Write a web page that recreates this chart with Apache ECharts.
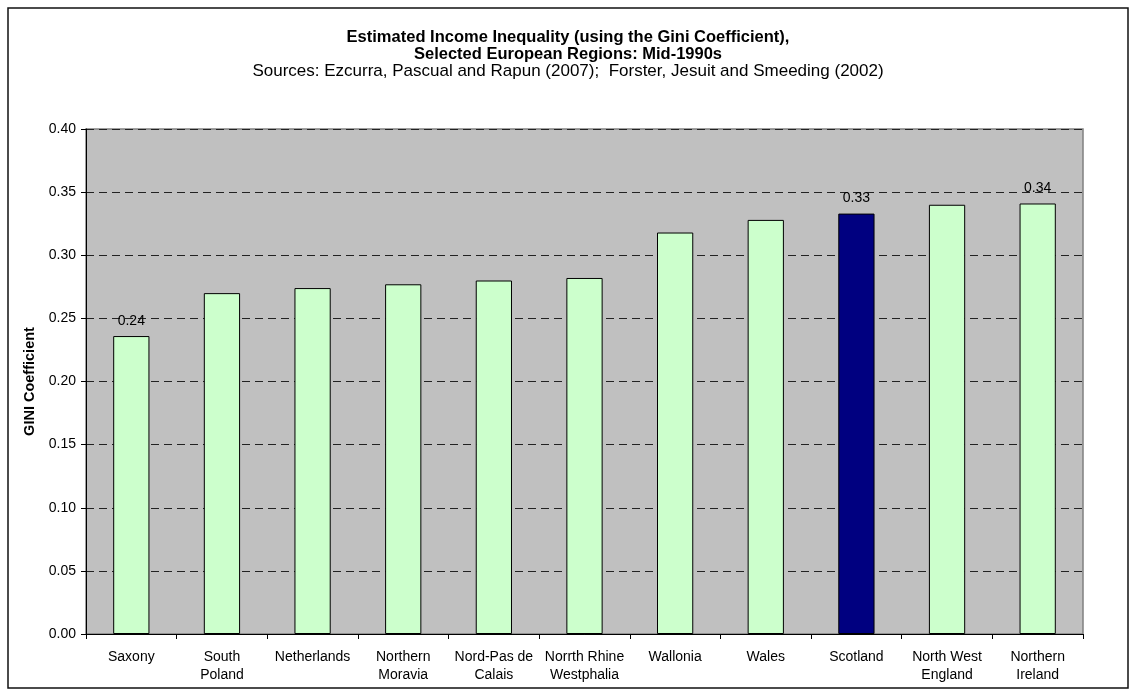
<!DOCTYPE html>
<html>
<head>
    <meta charset="utf-8"/>
    <title>Gini coefficient, European regions</title>
    <script src="https://cdn.jsdelivr.net/npm/echarts@6/dist/echarts.min.js"></script>
    <style>
        html, body { margin: 0; padding: 0; background: #fff; }
        #main { width: 1136px; height: 696px; }
    </style>
</head>
<body>
<div id="main"></div>
<script>
    // regions, as they appear under the axis
    let regions = ['Saxony', 'South\nPoland', 'Netherlands', 'Northern\nMoravia', 'Nord-Pas de\nCalais',
        'Norrth Rhine\nWestphalia', 'Wallonia', 'Wales', 'Scotland', 'North West\nEngland', 'Northern\nIreland'];
    // gini values
    let gini = [0.236, 0.270, 0.274, 0.277, 0.280, 0.282, 0.318, 0.328, 0.333, 0.340, 0.341];
    // bars that carry a value label
    let labelled = ['Saxony', 'Scotland', 'Northern\nIreland'];
    let highlight = 'Scotland';
    let yTicks = [0, 0.05, 0.10, 0.15, 0.20, 0.25, 0.30, 0.35, 0.40];

    let font = 'Liberation Sans, Arial, sans-serif';

    let seriesData = [];
    for (let i = 0; i < gini.length; i++) {
        let item = {
            value: gini[i],
            itemStyle: {
                color: regions[i] == highlight ? '#000080' : '#CCFFCC',
                borderColor: '#000',
                borderWidth: 1
            }
        };
        if (labelled.indexOf(regions[i]) >= 0) {
            item.label = {
                show: true,
                position: 'top',
                distance: 8,
                color: '#000',
                fontFamily: font,
                fontSize: 14,
                formatter: function (p) { return p.value.toFixed(2); }
            };
        }
        seriesData.push(item);
    }

    let myChart = echarts.init(document.getElementById('main'));
    let option = {
        backgroundColor: '#fff',
        animation: false,
        title: [
            {
                text: 'Estimated Income Inequality (using the Gini Coefficient),\nSelected European Regions: Mid-1990s',
                left: 'center',
                top: 23.5,
                textStyle: { fontFamily: font, fontSize: 16.5, fontWeight: 'bold', color: '#000', lineHeight: 17 }
            },
            {
                text: 'Sources: Ezcurra, Pascual and Rapun (2007);  Forster, Jesuit and Smeeding (2002)',
                left: 'center',
                top: 57.5,
                textStyle: { fontFamily: font, fontSize: 17, fontWeight: 'normal', color: '#000', lineHeight: 17 }
            }
        ],
        graphic: [
            {
                type: 'rect',
                shape: { x: 8, y: 8, width: 1120, height: 680 },
                style: { fill: 'none', stroke: '#111', lineWidth: 1.5 },
                silent: true
            }
        ],
        grid: {
            left: 86,
            right: 53,
            top: 129,
            bottom: 62,
            show: true,
            backgroundColor: '#C0C0C0',
            borderColor: '#808080',
            borderWidth: 1.5
        },
        xAxis: {
            type: 'category',
            data: regions,
            axisLine: { lineStyle: { color: '#000', width: 1 } },
            axisTick: { show: true, length: 5, lineStyle: { color: '#000' } },
            axisLabel: {
                interval: 0,
                margin: 14,
                color: '#000',
                fontFamily: font,
                fontSize: 14,
                lineHeight: 18
            },
            splitLine: { show: false }
        },
        yAxis: {
            type: 'value',
            min: 0,
            max: yTicks[yTicks.length - 1],
            interval: 0.05,
            name: 'GINI Coefficient',
            nameLocation: 'middle',
            nameGap: 47,
            nameTextStyle: { fontFamily: font, fontSize: 14.5, fontWeight: 'bold', color: '#000' },
            axisLine: { show: true, lineStyle: { color: '#000', width: 1 } },
            axisTick: { show: true, length: 5, lineStyle: { color: '#000' } },
            axisLabel: {
                margin: 10,
                color: '#000',
                fontFamily: font,
                fontSize: 14,
                formatter: function (v) { return v.toFixed(2); }
            },
            splitLine: { show: true, lineStyle: { color: '#222', type: [8, 5], width: 1 } }
        },
        series: [
            {
                name: 'Gini',
                type: 'bar',
                barCategoryGap: '60%',
                data: seriesData
            }
        ]
    };
    myChart.setOption(option);
</script>
</body>
</html>
